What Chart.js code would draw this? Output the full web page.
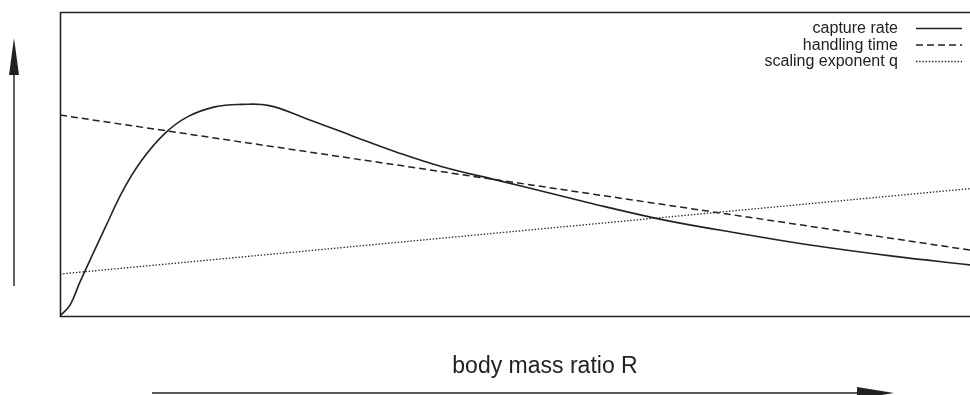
<!doctype html>
<html lang="en">
  <head>
    <meta charset="utf-8">
    <title>Capture rate, handling time and scaling exponent vs body mass ratio</title>
    <style>
      * {
        margin: 0;
        padding: 0;
      }
      body {
        background: white;
        width: 970px;
        height: 395px;
        overflow: hidden;
      }
    </style>
  </head>
  <body>
    <canvas id="myChart" width="970" height="395"></canvas>
    <script src="https://cdn.jsdelivr.net/npm/chart.js/dist/chart.umd.min.js"></script>
    <script>

// data (arbitrary units; x and y both 0..100)
const ratioR = [0, 1.1, 2.2, 5, 7, 9, 11.5, 14, 17, 20, 23, 27, 32, 37, 42, 48, 54, 60, 67, 75, 83, 91.5, 100];
const captureRate = [0, 3.6, 11.2, 29.3, 41.7, 51.3, 60.0, 65.5, 68.8, 69.6, 69.2, 65.0, 59.4, 53.9, 49.1, 44.7, 40.3, 35.9, 31.2, 27.0, 23.1, 19.7, 16.8];
const ratioLinear = [0, 100];
const handlingTime = [66.1, 21.7];
const scalingExponent = [13.8, 41.9];
const seriesNames = ['capture rate', 'handling time', 'scaling exponent q'];
const xTitle = 'body mass ratio R';

const ink = '#222';
const dashes = [[], [7, 4], [1.4, 1.8]];

function pts(xs, ys) {
  return xs.map((x, i) => ({x: x, y: ys[i]}));
}

// frame, arrows, axis text and legend
const decorations = {
  id: 'decorations',
  afterDraw(chart) {
    const ctx = chart.ctx;
    const a = chart.chartArea;
    ctx.save();
    ctx.strokeStyle = ink;
    ctx.fillStyle = ink;
    ctx.lineWidth = 1.6;
    ctx.setLineDash([]);

    // box (right side runs off the page)
    ctx.beginPath();
    ctx.moveTo(chart.width, a.top + 0.5);
    ctx.lineTo(a.left + 0.5, a.top + 0.5);
    ctx.lineTo(a.left + 0.5, a.bottom + 0.5);
    ctx.lineTo(chart.width, a.bottom + 0.5);
    ctx.stroke();

    // vertical arrow
    ctx.lineWidth = 1.4;
    ctx.beginPath();
    ctx.moveTo(14, 286);
    ctx.lineTo(14, 72);
    ctx.stroke();
    ctx.beginPath();
    ctx.moveTo(14, 38);
    ctx.lineTo(19, 75);
    ctx.lineTo(9, 75);
    ctx.closePath();
    ctx.fill();

    // horizontal arrow
    ctx.beginPath();
    ctx.moveTo(152, 393);
    ctx.lineTo(862, 393);
    ctx.stroke();
    ctx.beginPath();
    ctx.moveTo(894, 393);
    ctx.lineTo(857, 387);
    ctx.lineTo(857, 399);
    ctx.closePath();
    ctx.fill();

    // x title
    ctx.font = '23px "Liberation Sans", Arial, sans-serif';
    ctx.textAlign = 'center';
    ctx.textBaseline = 'alphabetic';
    ctx.fillText(xTitle, 545, 373);

    // legend
    ctx.font = '16px "Liberation Sans", Arial, sans-serif';
    ctx.textAlign = 'right';
    seriesNames.forEach((name, i) => {
      const base = 33 + i * 16.5;
      ctx.fillText(name, 898, base);
      ctx.lineWidth = i == 2 ? 1.3 : 1.5;
      ctx.setLineDash(dashes[i]);
      ctx.beginPath();
      ctx.moveTo(916, base - 4.5);
      ctx.lineTo(962, base - 4.5);
      ctx.stroke();
    });
    ctx.restore();
  }
};

const data = {
  datasets: [{
    label: seriesNames[0],
    data: pts(ratioR, captureRate),
    borderColor: ink,
    borderWidth: 1.6,
    pointRadius: 0,
    tension: 0.4
  }, {
    label: seriesNames[1],
    data: pts(ratioLinear, handlingTime),
    borderColor: ink,
    borderWidth: 1.5,
    borderDash: dashes[1],
    pointRadius: 0
  }, {
    label: seriesNames[2],
    data: pts(ratioLinear, scalingExponent),
    borderColor: ink,
    borderWidth: 1.3,
    borderDash: dashes[2],
    pointRadius: 0
  }]
};

const config = {
  type: 'line',
  data,
  options: {
    responsive: false,
    animation: false,
    layout: {
      padding: {left: 60, top: 12, right: 0, bottom: 79}
    },
    scales: {
      x: {type: 'linear', min: 0, max: 100, display: false},
      y: {min: 0, max: 100, display: false}
    },
    plugins: {
      legend: {display: false},
      tooltip: {enabled: false}
    }
  },
  plugins: [decorations]
};

new Chart(document.getElementById('myChart'), config);
    </script>
  </body>
</html>
